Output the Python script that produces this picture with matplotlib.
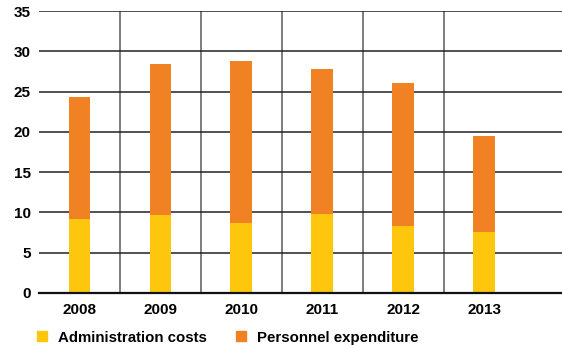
import numpy as np
import matplotlib.pyplot as plt
from matplotlib.patches import Patch

years = ["2008", "2009", "2010", "2011", "2012", "2013"]
admin = [9.2, 9.7, 8.7, 9.8, 8.35, 7.6]
personnel = [15.1, 18.7, 20.1, 18.0, 17.7, 11.9]
yticks = [0, 5, 10, 15, 20, 25, 30, 35]

yellow = "#FEC60C"
orange = "#F08223"

plt.rcParams["font.family"] = ["Liberation Sans", "DejaVu Sans"]
plt.rcParams["font.weight"] = "bold"

fig = plt.figure(figsize=(5.62, 3.45), dpi=100)
ax = fig.add_axes([0.0694, 0.151, 0.9306, 0.817])

x = np.arange(len(years))
w = 0.27
ax.bar(x, admin, w, color=yellow, zorder=3)
ax.bar(x, personnel, w, bottom=admin, color=orange, zorder=3)

ax.set_xlim(-0.5, 5.96)
ax.set_ylim(0, 35)
ax.set_yticks(yticks)
ax.set_xticks(x)
ax.set_xticklabels(years)
ax.set_xticks(np.arange(0.5, 5, 1), minor=True)

# grid: dark horizontal lines, grey vertical separators
ax.grid(axis="y", color="#222222", linewidth=1.1, zorder=0)
ax.grid(axis="x", which="minor", color="#5a5a5a", linewidth=1.1, zorder=0)
ax.grid(axis="x", which="major", visible=False)
ax.set_axisbelow(True)

for s in ["left", "right", "top"]:
    ax.spines[s].set_visible(False)
ax.spines["bottom"].set_color("#111111")
ax.spines["bottom"].set_linewidth(1.6)
ax.spines["bottom"].set_zorder(4)

ax.tick_params(axis="both", which="both", length=0, labelsize=11)
ax.tick_params(axis="y", pad=6)
ax.tick_params(axis="x", pad=7)

handles = [Patch(color=yellow, label="Administration costs"),
           Patch(color=orange, label="Personnel expenditure")]
fig.legend(handles=handles, loc="lower left", bbox_to_anchor=(0.042, -0.038),
           ncol=2, frameon=False, fontsize=10.8, handlelength=0.67,
           handleheight=0.67, handletextpad=0.75, columnspacing=1.9)

fig.savefig("out.png", dpi=100)
